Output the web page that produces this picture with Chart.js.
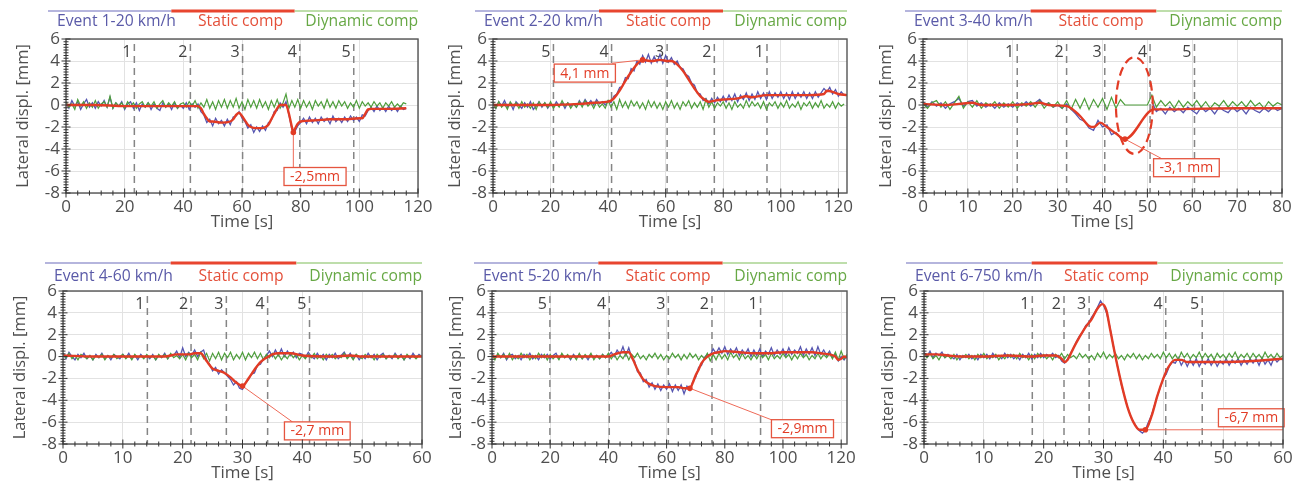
<!DOCTYPE html>
<html>
<head>
<meta charset="utf-8">
<script src="https://cdn.jsdelivr.net/npm/chart.js@4.4.1/dist/chart.umd.min.js"></script>
<style>
  body { margin: 0; background: #fff; }
  #wrap { position: relative; width: 1298px; height: 486px; overflow: hidden; }
  .panel { position: absolute; }
</style>
</head>
<body>
<div id="wrap">
  <div class="panel" style="left:0;top:0;width:440px;height:243px"><canvas id="c1"></canvas></div>
  <div class="panel" style="left:430px;top:0;width:440px;height:243px"><canvas id="c2"></canvas></div>
  <div class="panel" style="left:860px;top:0;width:438px;height:243px"><canvas id="c3"></canvas></div>
  <div class="panel" style="left:0;top:250px;width:440px;height:240px"><canvas id="c4"></canvas></div>
  <div class="panel" style="left:430px;top:250px;width:440px;height:240px"><canvas id="c5"></canvas></div>
  <div class="panel" style="left:860px;top:250px;width:438px;height:240px"><canvas id="c6"></canvas></div>
</div>
<script>
// ---- data -------------------------------------------------------------
const staticLabel = "Static comp";
const dynamicLabel = "Diynamic comp";

// Event 1 (1 s samples, 0..116 s)
const ev1Meas = [0.2, -0.3, 0.4, -0.1, 0.3, -0.4, 0.1, 0.5, -0.2, 0.2,
  -0.3, 0.3, -0.1, 0.4, -0.2, 0.7, -0.3, 0.2, -0.1, 0.3,
  -0.4, 0.1, 0.3, -0.3, 0.2, -0.5, 0.1, -0.2, 0.2, -0.4,
  0.1, -0.3, -0.5, 0.2, -0.2, 0.1, -0.4, 0.2, -0.3, 0.0,
  -0.3, 0.2, -0.4, 0.1, -0.2, 0.1, -0.6, -0.9, -1.6, -1.3,
  -1.9, -1.2, -1.7, -1.4, -1.9, -1.3, -1.8, -1.1, -1.0, -0.6,
  -1.2, -1.5, -2.1, -1.8, -2.5, -2.0, -2.4, -1.9, -2.3, -1.6,
  -1.4, -0.6, -0.5, 0.2, -0.2, 0.3, -0.9, -2.2, -2.4, -1.9,
  -1.6, -1.2, -1.7, -1.1, -1.6, -1.2, -1.7, -1.1, -1.5, -1.2,
  -1.7, -1.0, -1.5, -1.2, -1.6, -1.1, -1.5, -1.0, -1.4, -1.1,
  -1.5, -0.9, -1.0, -0.5, -0.2, -0.6, -0.1, -0.5, -0.2, -0.6,
  -0.1, -0.5, -0.2, -0.6, -0.1, -0.4, -0.3];
const ev1Dyn = [0.3, -0.2, 0.1, -0.4, 0.5, -0.1, 0.3, -0.3, 0.2, -0.2,
  0.4, -0.3, 0.1, 0.3, -0.2, 0.8, -0.3, 0.2, -0.1, 0.2,
  -0.3, 0.3, -0.1, 0.2, -0.3, 0.1, 0.3, -0.2, 0.2, -0.1,
  0.3, -0.3, 0.1, 0.4, -0.2, 0.2, -0.1, 0.3, -0.3, 0.1,
  0.2, -0.2, 0.3, -0.1, 0.4, -0.3, 0.2, -0.2, 0.5, -0.3,
  0.3, -0.4, 0.4, -0.2, 0.5, -0.3, 0.4, -0.2, 0.6, -0.3,
  0.3, -0.4, 0.5, -0.2, 0.4, -0.3, 0.5, -0.2, 0.3, -0.4,
  0.4, -0.2, 0.5, -0.3, 0.2, 1.0, -0.3, 0.4, -0.2, 0.5,
  -0.3, 0.4, -0.2, 0.3, -0.4, 0.4, -0.1, 0.3, -0.3, 0.5,
  -0.2, 0.3, -0.3, 0.4, -0.1, 0.3, -0.3, 0.2, -0.2, 0.4,
  -0.3, 0.3, -0.1, 0.2, -0.2, 0.3, -0.1, 0.2, -0.3, 0.2,
  -0.1, 0.3, -0.2, 0.1, -0.2, 0.2, 0.1];
const ev1StatT = [0, 10, 20, 25, 35, 45, 46, 47, 48, 49, 50, 53, 56, 57, 58, 59, 60, 61, 62, 63, 65, 67, 68, 69, 70,
  71, 72, 73, 75, 76, 77, 77.5, 78, 79, 80, 85, 90, 95, 100, 101, 102, 103, 104, 110, 116];
const ev1StatY = [0, 0, -0.1, -0.1, -0.1, -0.1, -0.3, -0.8, -1.2, -1.5, -1.5, -1.6, -1.5, -1.3, -0.9, -0.7, -1.0, -1.4, -1.8, -2.0, -2.1, -2.1, -2.0, -1.8, -1.3,
  -0.8, -0.3, 0, 0, -0.8, -2.0, -2.5, -2.2, -1.7, -1.5, -1.4, -1.3, -1.3, -1.2, -1.2, -0.8, -0.4, -0.35, -0.35, -0.3];
const ev1Marks = [23.3, 42.4, 60.2, 79.7, 98.1];
const ev1MarkLabels = ["1", "2", "3", "4", "5"];

// Event 2 (1 s samples, 0..122 s)
const ev2Meas = [0.2, -0.3, 0.3, -0.1, 0.4, -0.2, 0.2, -0.4, 0.3, 0.0,
  -0.3, 0.2, -0.2, 0.3, -0.4, -0.1, 0.3, -0.2, 0.2, -0.3,
  0.1, -0.2, 0.3, -0.1, 0.2, -0.3, 0.2, -0.1, 0.1, -0.2,
  0.4, 0.0, 0.5, 0.1, 0.4, 0.0, 0.5, 0.1, 0.3, 0.0,
  0.4, 0.2, 0.8, 1.0, 1.6, 1.7, 2.5, 2.4, 3.3, 3.1,
  4.0, 3.7, 4.5, 3.9, 4.6, 3.8, 4.4, 3.9, 4.6, 3.8,
  4.5, 3.9, 4.3, 3.7, 4.0, 3.4, 3.3, 2.8, 2.6, 2.0,
  1.8, 1.1, 1.0, 0.4, 0.6, 0.1, 0.6, 0.2, 0.7, 0.3,
  0.8, 0.3, 0.9, 0.4, 1.0, 0.3, 0.9, 0.5, 1.1, 0.4,
  1.0, 0.5, 1.2, 0.6, 1.1, 0.5, 1.2, 0.6, 1.1, 0.7,
  1.2, 0.6, 1.1, 0.5, 1.2, 0.6, 1.1, 0.7, 1.2, 0.6,
  1.1, 0.6, 1.2, 0.7, 1.1, 1.5, 1.2, 1.6, 1.0, 1.4,
  0.8, 1.2, 0.9];
const ev2Dyn = [0.2, -0.3, 0.3, -0.2, 0.1, -0.4, 0.3, -0.1, 0.2, -0.3,
  0.3, -0.2, 0.1, -0.3, 0.2, -0.4, 0.3, -0.1, 0.2, -0.2,
  0.3, -0.3, 0.1, -0.2, 0.4, -0.1, 0.2, -0.3, 0.1, -0.2,
  0.3, -0.2, 0.4, -0.1, 0.2, -0.3, 0.3, -0.2, 0.1, -0.3,
  0.4, -0.2, 0.3, -0.4, 0.5, -0.2, 0.3, -0.3, 0.4, -0.1,
  0.3, -0.3, 0.2, -0.4, 0.4, -0.2, 0.3, -0.3, 0.2, -0.4,
  0.3, -0.2, 0.4, -0.3, 0.2, -0.4, 0.3, -0.1, 0.4, -0.3,
  0.2, -0.2, 0.3, -0.4, 0.5, -0.2, 0.3, -0.3, 0.2, -0.1,
  0.3, -0.3, 0.2, -0.4, 0.3, -0.2, 0.1, -0.3, 0.4, -0.2,
  0.3, -0.1, 0.2, -0.3, 0.3, -0.4, 0.2, -0.1, 0.3, -0.3,
  0.2, -0.2, 0.4, -0.3, 0.1, -0.2, 0.3, -0.4, 0.2, -0.1,
  0.3, -0.3, 0.2, -0.2, 0.4, -0.3, 0.1, -0.2, 0.3, -0.3,
  0.2, -0.1, 0.1];
const ev2StatT = [0, 10, 20, 30, 35, 40, 41, 42, 44, 46, 48, 50, 52, 55, 58, 61, 62, 64, 66, 68, 70, 72, 74, 75, 77,
  80, 85, 88, 90, 95, 100, 105, 110, 115, 116, 118, 120, 123];
const ev2StatY = [0, 0, 0, 0.1, 0.2, 0.3, 0.4, 0.6, 1.3, 2.2, 3.0, 3.7, 4.1, 4.0, 4.1, 4.0, 4.0, 3.7, 3.1, 2.3, 1.5, 0.8, 0.4, 0.3, 0.4,
  0.5, 0.6, 0.8, 0.7, 0.9, 0.9, 0.9, 0.9, 1.0, 1.3, 1.2, 1.0, 0.9];
const ev2Marks = [21, 41.2, 60.5, 76.9, 95.2];
const ev2MarkLabels = ["5", "4", "3", "2", "1"];

// Event 3 (1 s samples, 0..80 s, no record 46-50 s)
const ev3Meas = [0.2, -0.2, 0.3, -0.1, 0.2, -0.3, 0.1, 0.3, 0.6, -0.1,
  0.3, 0.4, -0.1, 0.2, -0.2, 0.1, -0.3, 0.2, -0.2, 0.1,
  -0.2, 0.2, -0.1, 0.3, -0.1, 0.2, 0.5, 0.0, 0.2, -0.2,
  0.0, -0.3, 0.1, -0.4, -0.8, -1.3, -1.5, -2.1, -2.3, -1.4,
  -2.0, -1.8, -2.7, -2.5, -3.0, -3.1, null, null, null, null,
  null, 0.3, -0.6, -0.3, -0.8, -0.2, -0.6, -0.3, -0.7, -0.2,
  -0.5, -0.8, -0.2, -0.6, -0.3, -0.8, -0.2, -0.5, -0.7, -0.2,
  -0.6, -0.3, -0.8, -0.2, -0.5, -0.7, -0.3, -0.6, -0.2, -0.5,
  -0.3];
const ev3Dyn = [0.1, -0.3, 0.2, 0.4, -0.2, 0.3, -0.4, 0.2, 0.8, -0.3,
  0.3, -0.2, 0.4, -0.3, 0.2, -0.1, 0.3, -0.3, 0.2, -0.2,
  0.3, -0.3, 0.2, -0.1, 0.3, -0.2, 0.4, -0.3, 0.2, -0.2,
  0.3, -0.3, 0.4, -0.4, 0.5, -0.3, 0.6, -0.4, 0.5, -0.2,
  0.6, -0.4, 0.7, -0.3, 0.5, 0, 0, 0, 0, 0,
  0, 0.9, -0.2, 0.4, -0.1, 0.3, -0.3, 0.4, -0.2, 0.3,
  -0.1, 0.4, -0.2, 0.3, -0.3, 0.2, -0.1, 0.4, -0.2, 0.3,
  -0.1, 0.3, -0.2, 0.4, -0.1, 0.2, -0.3, 0.3, -0.1, 0.2,
  0.0];
const ev3StatT = [0, 5, 8, 11, 13, 20, 24, 26, 28, 32, 33, 35, 37, 38, 39.5, 41, 43, 45, 51.5, 55, 60, 70, 80];
const ev3StatY = [0.1, 0, 0.1, 0.2, 0, 0, 0.1, 0.2, 0, -0.1, -0.3, -1.0, -1.9, -2.0, -1.6, -2.0, -2.6, -3.1, -0.4, -0.4, -0.35, -0.3, -0.3];
const ev3Marks = [21, 32, 40.5, 50.6, 60.5];
const ev3MarkLabels = ["1", "2", "3", "4", "5"];

// Event 4 (0.5 s samples, 0..60 s)
const ev4Meas = [0.3, -0.2, 0.4, 0.0, -0.3, 0.2, -0.1, 0.3, -0.2, 0.1,
  -0.3, 0.2, -0.1, 0.3, -0.2, 0.1, -0.3, 0.2, 0.0, -0.2,
  0.2, -0.1, 0.3, -0.2, 0.1, -0.3, 0.2, -0.1, 0.1, -0.2,
  0.2, -0.3, 0.1, -0.1, 0.3, -0.2, 0.2, 0.1, 0.5, -0.1,
  0.8, 0.0, 0.4, 0.1, 0.6, 0.0, 0.4, 0.6, -0.3, -0.7,
  -1.3, -1.0, -1.6, -1.2, -1.5, -1.8, -2.1, -2.6, -2.3, -2.9,
  -3.0, -2.4, -2.1, -1.6, -1.5, -0.8, -0.7, -0.2, 0.1, 0.5,
  0.0, 0.6, 0.1, 0.7, 0.0, 0.5, 0.1, 0.4, -0.1, 0.3,
  0.2, -0.1, 0.4, 0.0, -0.2, 0.3, -0.1, 0.2, -0.3, 0.2,
  -0.1, 0.3, -0.2, 0.1, 0.4, -0.1, 0.3, -0.2, 0.2, -0.3,
  0.1, -0.2, 0.3, -0.1, 0.2, -0.3, 0.1, 0.3, -0.2, 0.1,
  -0.2, 0.3, -0.1, 0.2, -0.3, 0.1, -0.2, 0.3, -0.1, 0.2,
  0.0];
const ev4Dyn = [0.2, -0.1, 0.3, -0.2, 0.1, -0.3, 0.2, 0.0, -0.2, 0.1,
  -0.3, 0.1, -0.1, 0.2, -0.3, 0.1, -0.1, 0.2, -0.2, 0.0,
  0.2, -0.2, 0.1, -0.3, 0.2, -0.1, 0.1, -0.2, 0.2, -0.1,
  0.1, -0.3, 0.2, -0.1, 0.2, -0.2, 0.3, -0.1, 0.1, -0.2,
  0.2, -0.3, 0.3, -0.1, 0.2, -0.3, 0.4, -0.2, 0.3, -0.4,
  0.3, -0.2, 0.4, -0.3, 0.3, -0.1, 0.4, -0.3, 0.2, -0.2,
  0.4, -0.3, 0.3, -0.1, 0.4, -0.2, 0.3, -0.3, 0.2, -0.1,
  0.3, -0.2, 0.2, -0.3, 0.1, -0.2, 0.3, -0.1, 0.2, -0.3,
  0.1, -0.2, 0.2, -0.1, 0.3, -0.2, 0.1, -0.3, 0.2, -0.1,
  0.2, -0.2, 0.1, -0.1, 0.3, -0.2, 0.1, -0.3, 0.2, 0.0,
  -0.2, 0.2, -0.1, 0.1, -0.3, 0.2, -0.1, 0.2, -0.2, 0.1,
  -0.1, 0.2, -0.2, 0.1, -0.3, 0.2, -0.1, 0.1, -0.2, 0.1,
  0.0];
const ev4StatT = [0, 5, 10, 14, 17, 19, 21, 22, 23, 24, 25, 26, 27, 28, 29, 30, 31, 32, 33, 34, 35, 36, 38, 40, 45, 48, 50, 55, 60];
const ev4StatY = [0.1, 0, 0, 0, 0, 0.2, 0.2, 0.3, 0.3, -0.4, -1.1, -1.3, -1.5, -1.9, -2.4, -2.7, -2.0, -1.2, -0.5, -0.1, 0.2, 0.3, 0.3, 0.1, 0, 0.1, 0, 0, 0];
const ev4Marks = [14.1, 21.4, 27.3, 34.2, 41.2];
const ev4MarkLabels = ["1", "2", "3", "4", "5"];

// Event 5 (1 s samples, 0..122 s)
const ev5Meas = [0.3, -0.2, 0.2, -0.1, 0.3, -0.3, 0.1, 0.2, -0.2, 0.1,
  -0.3, 0.2, -0.1, 0.3, -0.2, 0.1, -0.3, 0.2, -0.1, 0.2,
  -0.2, 0.1, 0.3, -0.2, 0.2, -0.1, 0.1, -0.3, 0.2, -0.1,
  0.2, -0.2, 0.1, -0.3, 0.2, -0.1, 0.1, -0.2, 0.2, -0.1,
  0.1, 0.4, 0.0, 0.6, 0.2, 0.9, 0.1, 0.8, -0.1, -0.4,
  -1.4, -1.5, -2.3, -2.1, -2.8, -2.4, -3.0, -2.5, -3.1, -2.6,
  -3.0, -2.5, -3.2, -2.6, -3.1, -2.6, -3.4, -2.7, -3.1, -2.3,
  -1.9, -1.0, -0.8, -0.1, 0.2, 0.1, 0.7, 0.3, 0.8, 0.3,
  0.9, 0.2, 0.7, 0.3, 0.8, 0.1, 0.6, 0.2, 0.7, 0.0,
  0.6, 0.1, 0.7, 0.0, 0.5, 0.2, 0.8, 0.1, 0.6, 0.2,
  0.7, 0.1, 0.8, 0.2, 0.6, 0.3, 0.9, 0.1, 0.7, 0.2,
  0.8, 0.1, 0.9, 0.2, 0.6, 0.1, 0.5, -0.1, 0.2, -0.4,
  0.0, -0.3, 0.1];
const ev5Dyn = [0.2, -0.3, 0.3, -0.1, 0.2, -0.2, 0.3, -0.3, 0.1, -0.2,
  0.3, -0.1, 0.2, -0.3, 0.1, -0.2, 0.3, -0.1, 0.2, -0.3,
  0.2, -0.2, 0.1, -0.3, 0.3, -0.1, 0.2, -0.2, 0.1, -0.3,
  0.3, -0.2, 0.2, -0.1, 0.3, -0.3, 0.1, -0.2, 0.2, -0.1,
  0.3, -0.2, 0.2, -0.3, 0.1, -0.2, 0.3, -0.3, 0.2, -0.1,
  0.3, -0.2, 0.1, -0.3, 0.2, -0.1, 0.3, -0.2, 0.2, -0.3,
  0.1, -0.2, 0.3, -0.1, 0.2, -0.3, 0.2, -0.2, 0.3, -0.1,
  0.2, -0.3, 0.1, -0.2, 0.3, -0.4, 0.2, -0.3, 0.3, -0.2,
  0.2, -0.3, 0.4, -0.1, 0.2, -0.3, 0.3, -0.2, 0.1, -0.3,
  0.2, -0.2, 0.3, -0.1, 0.2, -0.3, 0.3, -0.2, 0.1, -0.2,
  0.3, -0.1, 0.2, -0.3, 0.2, -0.2, 0.3, -0.1, 0.2, -0.3,
  0.1, -0.2, 0.3, -0.2, 0.2, -0.1, 0.3, -0.2, 0.4, -0.3,
  0.5, -0.2, 0.2];
const ev5StatT = [0, 20, 30, 40, 42, 45, 47, 48, 49, 50, 51, 52, 54, 56, 60, 64, 66, 68, 69, 70, 71, 72, 74, 76, 78,
  80, 85, 90, 95, 100, 105, 110, 113, 116, 118, 119, 120, 121, 122];
const ev5StatY = [0, 0, 0, 0, 0.2, 0.4, 0.4, 0.0, -0.6, -1.2, -1.7, -2.1, -2.5, -2.7, -2.8, -2.8, -2.9, -2.9, -2.4, -1.7, -1.2, -0.6, 0.0, 0.3, 0.4,
  0.5, 0.4, 0.3, 0.3, 0.4, 0.4, 0.4, 0.3, 0.2, 0.0, -0.3, -0.2, 0.0, -0.1];
const ev5Marks = [19.9, 40.3, 60.6, 75.6, 92.3];
const ev5MarkLabels = ["5", "4", "3", "2", "1"];

// Event 6 (0.5 s samples, 0..60 s)
const ev6Meas = [0.4, 0.0, 0.5, -0.1, 0.3, 0.1, 0.4, -0.1, 0.2, 0.0,
  -0.2, 0.2, -0.3, 0.1, -0.1, 0.2, -0.2, 0.1, -0.3, 0.2,
  -0.1, 0.2, -0.2, 0.3, -0.1, 0.1, -0.2, 0.3, -0.1, 0.2,
  -0.2, 0.1, -0.3, 0.2, -0.1, 0.3, -0.2, 0.2, -0.1, 0.3,
  -0.1, 0.2, 0.0, 0.3, -0.1, 0.1, -0.4, -0.6, -0.2, 0.3,
  0.8, 1.4, 1.9, 2.2, 2.8, 3.1, 3.6, 4.0, 4.5, 5.1,
  4.7, 4.0, 2.9, 1.4, 0.0, -1.3, -2.6, -3.6, -4.6, -5.4,
  -6.0, -6.4, -6.8, -7.0, -6.7, -6.0, -5.4, -4.5, -3.6, -2.8,
  -2.0, -1.6, -0.9, -0.5, -0.6, -0.1, -0.8, -0.3, -0.9, -0.3,
  -0.8, -0.2, -0.9, -0.4, -0.7, -0.2, -0.8, -0.3, -0.9, -0.4,
  -0.7, -0.2, -0.8, -0.3, -0.6, -0.2, -0.8, -0.3, -0.7, -0.2,
  -0.6, -0.2, -0.8, -0.1, -0.7, -0.3, -0.8, -0.1, -0.5, -0.2,
  -0.3];
const ev6Dyn = [0.2, -0.1, 0.3, -0.2, 0.1, -0.3, 0.2, -0.1, 0.1, -0.2,
  0.2, -0.3, 0.1, -0.1, 0.2, -0.2, 0.1, -0.3, 0.2, -0.1,
  0.3, -0.2, 0.1, -0.1, 0.2, -0.3, 0.1, -0.2, 0.2, -0.1,
  0.2, -0.2, 0.3, -0.1, 0.1, -0.3, 0.2, -0.2, 0.3, -0.1,
  0.2, -0.2, 0.1, -0.3, 0.2, -0.1, 0.3, -0.2, 0.2, -0.1,
  0.1, -0.2, 0.3, -0.1, 0.2, -0.2, 0.1, -0.3, 0.3, -0.1,
  0.4, -0.2, 0.2, -0.1, 0.3, -0.2, 0.1, -0.3, 0.2, -0.1,
  0.3, -0.2, 0.2, -0.3, 0.1, -0.2, 0.3, -0.1, 0.2, -0.2,
  0.4, -0.1, 0.3, -0.2, 0.2, -0.3, 0.4, -0.1, 0.3, -0.2,
  0.2, -0.1, 0.4, -0.2, 0.3, -0.1, 0.2, -0.3, 0.3, -0.1,
  0.2, -0.2, 0.3, -0.1, 0.4, -0.2, 0.2, -0.1, 0.3, -0.2,
  0.3, -0.1, 0.2, -0.2, 0.4, -0.1, 0.2, -0.2, 0.3, -0.1,
  0.1];
const ev6StatT = [0, 2, 4, 6, 10, 14, 18, 20, 22, 23, 23.5, 24, 25, 26, 27, 28, 29, 29.8, 30.5, 31, 32, 33, 34, 35, 36,
  37, 38, 39, 40, 40.8, 42, 43, 44, 46, 50, 55, 60];
const ev6StatY = [0.2, 0.2, 0.1, 0, 0, 0.1, 0, 0.1, 0.1, -0.2, -0.5, -0.3, 0.8, 1.8, 2.7, 3.4, 4.4, 4.8, 4.2, 2.8, 0.0, -2.5, -4.6, -6.0, -6.7,
  -6.7, -5.5, -3.6, -2.0, -1.0, -0.3, -0.3, -0.5, -0.5, -0.5, -0.4, -0.2];
const ev6Marks = [18.1, 23.4, 27.6, 40.4, 46.5];
const ev6MarkLabels = ["1", "2", "3", "4", "5"];

// ---- colours / fonts -------------------------------------------------
const FONT = "'Open Sans', sans-serif";
const colMeas = "#5656b0";
const colStatic = "#e23b25";
const colDyn = "#4e9e3c";
const textGray = "#4f4f4f";

Chart.defaults.font.family = FONT;

// panel settings (layout in canvas pixels, annotation anchors in data units)
const panels = [
  { canvas: "c1", title: "Event 1-20 km/h", dt: 1, meas: ev1Meas, dyn: ev1Dyn, statT: ev1StatT, statY: ev1StatY,
    xMax: 120, xStep: 20, xMinor: 4, marks: ev1Marks, markLabels: ev1MarkLabels,
    note: { at: 31, unit: "mm", lx: 77.5, ly: -5.7, bx: 84.9, by: -6.5 },
    frame: { w: 440, h: 243, padLeft: 10, left: 66, right: 418, top: 39, bottom: 193, legLine: 11, legText: 22 } },
  { canvas: "c2", title: "Event 2-20 km/h", dt: 1, meas: ev2Meas, dyn: ev2Dyn, statT: ev2StatT, statY: ev2StatY,
    xMax: 123, xStep: 20, xMinor: 4, marks: ev2Marks, markLabels: ev2MarkLabels,
    note: { at: 12, unit: " mm", lx: 41.4, ly: 3.8, bx: 31.9, by: 2.9 },
    frame: { w: 440, h: 243, padLeft: 12, left: 63, right: 417, top: 39, bottom: 193, legLine: 11, legText: 22 } },
  { canvas: "c3", title: "Event 3-40 km/h", dt: 1, meas: ev3Meas, dyn: ev3Dyn, statT: ev3StatT, statY: ev3StatY,
    xMax: 80, xStep: 10, xMinor: 2.5, marks: ev3Marks, markLabels: ev3MarkLabels,
    note: { at: 17, unit: " mm", lx: 53.3, ly: -4.9, bx: 58.7, by: -5.7 },
    ring: { x: 47.1, y: -0.05, rx: 4.1, ry: 4.4 },
    frame: { w: 438, h: 243, padLeft: 13, left: 63, right: 422, top: 39, bottom: 193, legLine: 11, legText: 22 } },
  { canvas: "c4", title: "Event 4-60 km/h", dt: 0.5, meas: ev4Meas, dyn: ev4Dyn, statT: ev4StatT, statY: ev4StatY,
    xMax: 60, xStep: 10, xMinor: 2, marks: ev4Marks, markLabels: ev4MarkLabels,
    note: { at: 15, unit: " mm", lx: 38.4, ly: -6.0, bx: 42.5, by: -6.8 },
    frame: { w: 440, h: 240, padLeft: 7, left: 63, right: 422, top: 41, bottom: 194, legLine: 13, legText: 27 } },
  { canvas: "c5", title: "Event 5-20 km/h", dt: 1, meas: ev5Meas, dyn: ev5Dyn, statT: ev5StatT, statY: ev5StatY,
    xMax: 122, xStep: 20, xMinor: 4, marks: ev5Marks, markLabels: ev5MarkLabels,
    note: { at: 17, unit: "mm", lx: 96.2, ly: -5.8, bx: 106.7, by: -6.6 },
    frame: { w: 440, h: 240, padLeft: 13, left: 62, right: 417, top: 41, bottom: 194, legLine: 13, legText: 27 } },
  { canvas: "c6", title: "Event 6-750 km/h", dt: 0.5, meas: ev6Meas, dyn: ev6Dyn, statT: ev6StatT, statY: ev6StatY,
    xMax: 60, xStep: 10, xMinor: 2, marks: ev6Marks, markLabels: ev6MarkLabels,
    note: { at: 25, unit: " mm", lx: 60, ly: null, bx: 54.7, by: -5.6 },
    frame: { w: 438, h: 240, padLeft: 15, left: 64, right: 423, top: 41, bottom: 194, legLine: 13, legText: 27 } },
];

function sampled(values, dt) {
  return values.map((v, i) => ({ x: i * dt, y: v }));
}

function paired(ts, ys) {
  return ts.map((t, i) => ({ x: t, y: ys[i] }));
}

function fmtValue(v) {
  return v.toFixed(1).replace(".", ",");
}

// ---- drawing helpers -------------------------------------------------
function line(ctx, x0, y0, x1, y1) {
  ctx.beginPath();
  ctx.moveTo(x0, y0);
  ctx.lineTo(x1, y1);
  ctx.stroke();
}

function makeDecor(p) {
  return {
    id: "decor_" + p.canvas,
    beforeDatasetsDraw(chart) {
      const { ctx, chartArea: a, scales } = chart;
      ctx.save();
      ctx.strokeStyle = "#858585";
      ctx.lineWidth = 1.5;
      ctx.setLineDash([7, 5]);
      p.marks.forEach((m) => {
        const x = scales.x.getPixelForValue(m);
        line(ctx, x, a.top + 5, x, a.bottom);
      });
      ctx.setLineDash([]);
      ctx.fillStyle = "#444";
      ctx.font = "16px " + FONT;
      ctx.textAlign = "right";
      ctx.textBaseline = "middle";
      p.marks.forEach((m, i) => {
        const x = scales.x.getPixelForValue(m);
        ctx.fillText(p.markLabels[i], x - 3, a.top + 13);
      });
      ctx.restore();
    },
    afterDatasetsDraw(chart) {
      const { ctx, scales } = chart;
      const xs = scales.x, ys = scales.y;
      ctx.save();
      if (p.ring) {
        ctx.strokeStyle = colStatic;
        ctx.lineWidth = 2.2;
        ctx.setLineDash([9, 5]);
        const cx = xs.getPixelForValue(p.ring.x), cy = ys.getPixelForValue(p.ring.y);
        const rx = Math.abs(xs.getPixelForValue(p.ring.x + p.ring.rx) - cx);
        const ry = Math.abs(ys.getPixelForValue(p.ring.y + p.ring.ry) - cy);
        ctx.beginPath();
        ctx.ellipse(cx, cy, rx, ry, 0, 0, Math.PI * 2);
        ctx.stroke();
        ctx.setLineDash([]);
      }
      const n = p.note;
      const vx = p.statT[n.at], vy = p.statY[n.at];
      const px = xs.getPixelForValue(vx), py = ys.getPixelForValue(vy);
      const lx = xs.getPixelForValue(n.lx), ly = ys.getPixelForValue(n.ly === null ? vy : n.ly);
      ctx.strokeStyle = "#ee6a58";
      ctx.lineWidth = 1;
      line(ctx, px, py, lx, ly);
      ctx.fillStyle = colStatic;
      ctx.beginPath();
      ctx.arc(px, py, 2.8, 0, Math.PI * 2);
      ctx.fill();
      const text = fmtValue(vy) + n.unit;
      ctx.font = "14px " + FONT;
      const tw = ctx.measureText(text).width;
      const bw = tw + 12, bh = 18;
      const bx = xs.getPixelForValue(n.bx), by = ys.getPixelForValue(n.by);
      ctx.fillStyle = "#fff";
      ctx.fillRect(bx - bw / 2, by - bh / 2, bw, bh);
      ctx.strokeStyle = "#e5553f";
      ctx.lineWidth = 1.3;
      ctx.strokeRect(bx - bw / 2, by - bh / 2, bw, bh);
      ctx.fillStyle = colStatic;
      ctx.textAlign = "center";
      ctx.textBaseline = "middle";
      ctx.fillText(text, bx, by + 0.5);
      ctx.restore();
    },
    afterDraw(chart) {
      const { ctx, chartArea: a, scales } = chart;
      const xs = scales.x, ys = scales.y;
      ctx.save();
      // plot frame
      ctx.strokeStyle = "#555";
      ctx.lineWidth = 1.4;
      ctx.strokeRect(a.left, a.top, a.right - a.left, a.bottom - a.top);
      // tick marks along the left and bottom axes
      ctx.strokeStyle = "#333";
      ctx.lineWidth = 1;
      for (let k = 0; k <= 56; k++) {
        const v = -8 + k * 0.25;
        const y = ys.getPixelForValue(v);
        const len = k % 8 === 0 ? 4.5 : 2.5;
        line(ctx, a.left - len, y, a.left + len, y);
      }
      const nMinor = Math.floor(p.xMax / p.xMinor + 1e-6);
      for (let k = 0; k <= nMinor; k++) {
        const v = k * p.xMinor;
        const x = xs.getPixelForValue(v);
        const major = Math.abs(v / p.xStep - Math.round(v / p.xStep)) < 1e-6;
        const len = major ? 4.5 : 2.5;
        line(ctx, x, a.bottom - len, x, a.bottom + len);
      }
      // legend: coloured rule above each entry
      const ds = chart.data.datasets;
      const x0 = a.left - 18, x1 = a.right;
      const seg = (x1 - x0) / 3;
      ds.forEach((d, i) => {
        ctx.strokeStyle = d.legendRule;
        ctx.lineWidth = i === 1 ? 3 : 1.3;
        line(ctx, x0 + seg * i, p.frame.legLine, x0 + seg * (i + 1), p.frame.legLine);
      });
      ctx.font = "15.7px " + FONT;
      ctx.textBaseline = "middle";
      const w0 = ctx.measureText(ds[0].label).width;
      const w2 = ctx.measureText(ds[2].label).width;
      const leftEnd = x0 + 9 + w0, rightStart = x1 - w2;
      ctx.fillStyle = ds[0].legendText;
      ctx.textAlign = "left";
      ctx.fillText(ds[0].label, x0 + 9, p.frame.legText);
      ctx.fillStyle = ds[1].legendText;
      ctx.textAlign = "center";
      ctx.fillText(ds[1].label, (leftEnd + rightStart) / 2, p.frame.legText);
      ctx.fillStyle = ds[2].legendText;
      ctx.textAlign = "right";
      ctx.fillText(ds[2].label, x1, p.frame.legText);
      ctx.restore();
    },
  };
}

// ---- build charts ----------------------------------------------------
function buildPanel(p) {
  const f = p.frame;
  const ctx = document.getElementById(p.canvas).getContext("2d");
  return new Chart(ctx, {
    type: "line",
    data: {
      datasets: [
        {
          label: p.title,
          data: sampled(p.meas, p.dt),
          borderColor: colMeas,
          borderWidth: 1.3,
          spanGaps: false,
          order: 2,
          legendRule: "#9c9cd2",
          legendText: "#5a5aa8",
        },
        {
          label: staticLabel,
          data: paired(p.statT, p.statY),
          borderColor: colStatic,
          borderWidth: 2.4,
          cubicInterpolationMode: "monotone",
          order: 0,
          legendRule: "#e8452f",
          legendText: "#e4503a",
        },
        {
          label: dynamicLabel,
          data: sampled(p.dyn, p.dt),
          borderColor: colDyn,
          borderWidth: 1.2,
          order: 1,
          legendRule: "#a9d38f",
          legendText: "#67a845",
        },
      ],
    },
    options: {
      responsive: true,
      maintainAspectRatio: false,
      animation: false,
      layout: {
        padding: { left: f.padLeft - 0.6, top: f.top, right: f.w - f.right, bottom: f.h - f.bottom - 44 },
      },
      elements: { point: { radius: 0 }, line: { tension: 0 } },
      plugins: { legend: { display: false }, tooltip: { enabled: false } },
      scales: {
        x: {
          type: "linear",
          min: 0,
          max: p.xMax,
          afterFit: (s) => { s.height = 44; s.paddingLeft = 0; s.paddingRight = 0; },
          ticks: { stepSize: p.xStep, includeBounds: false, autoSkip: false, padding: 4, color: textGray, font: { size: 17 }, maxRotation: 0 },
          grid: { color: "#e2e2e2", drawTicks: false },
          border: { display: false },
          title: { display: true, text: "Time [s]", color: textGray, font: { size: 17 }, padding: { top: 0, bottom: 5 } },
        },
        y: {
          type: "linear",
          min: -8,
          max: 6,
          afterFit: (s) => { s.width = f.left - f.padLeft + 0.6; },
          ticks: { stepSize: 2, autoSkip: false, padding: 6, color: textGray, font: { size: 17 } },
          grid: { color: "#e2e2e2", drawTicks: false },
          border: { display: false },
          title: { display: true, text: "Lateral displ. [mm]", color: textGray, font: { size: 16.5 }, padding: { top: 4, bottom: 0 } },
        },
      },
    },
    plugins: [makeDecor(p)],
  });
}

panels.forEach(buildPanel);
</script>
</body>
</html>
